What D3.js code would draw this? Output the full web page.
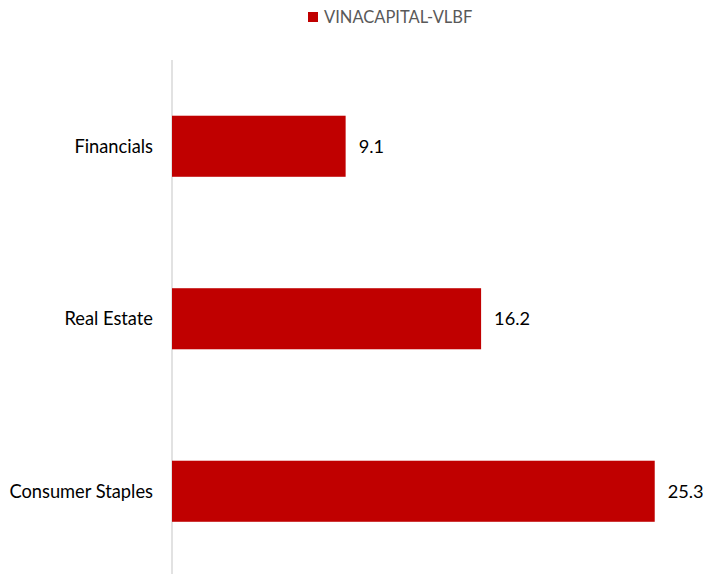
<!DOCTYPE html>
<html><head><meta charset="utf-8">
<script src="https://cdn.jsdelivr.net/npm/d3@7"></script>
<style>body{margin:0;background:#fff}svg{display:block}</style>
</head><body>
<script>
const categories = ["Financials", "Real Estate", "Consumer Staples"];
const values = [9.1, 16.2, 25.3];
const seriesName = "VINACAPITAL-VLBF";

const W = 703, H = 574;
const svg = d3.select("body").append("svg").attr("width", W).attr("height", H);
const font = "Lato, 'Open Sans', sans-serif";
const x0 = 172;
const x = d3.scaleLinear().domain([0, 1]).range([x0, x0 + 19.08]);
const y = d3.scaleBand().domain(categories).range([60, 577.5]).paddingInner(0.646).paddingOuter(0.323);
const color = "#c00000";

svg.append("line").attr("x1", x0).attr("x2", x0).attr("y1", 60).attr("y2", H)
  .attr("stroke", "#d9d9d9").attr("stroke-width", 1.5);

svg.selectAll("rect.bar").data(values).join("rect").attr("class", "bar")
  .attr("x", x(0)).attr("y", (d, i) => y(categories[i]))
  .attr("width", d => x(d) - x(0)).attr("height", y.bandwidth())
  .attr("fill", color);

svg.selectAll("text.val").data(values).join("text").attr("class", "val")
  .attr("x", d => x(d) + 13).attr("y", (d, i) => y(categories[i]) + y.bandwidth() / 2)
  .attr("dy", "0.35em").attr("font-family", font).attr("font-size", 18.2).attr("fill", "#000")
  .text(d => d.toFixed(1));

svg.selectAll("text.cat").data(categories).join("text").attr("class", "cat")
  .attr("x", 153).attr("y", d => y(d) + y.bandwidth() / 2)
  .attr("dy", "0.35em").attr("text-anchor", "end").attr("font-family", font).attr("font-size", 18.3)
  .attr("fill", "#000").text(d => d);

const lg = svg.append("g");
lg.append("rect").attr("x", 308).attr("y", 12).attr("width", 10).attr("height", 10).attr("fill", color);
lg.append("text").attr("x", 324).attr("y", 17).attr("dy", "0.35em").attr("font-family", font)
  .attr("font-size", 16.5).attr("fill", "#595959").text(seriesName);
</script>
</body></html>
